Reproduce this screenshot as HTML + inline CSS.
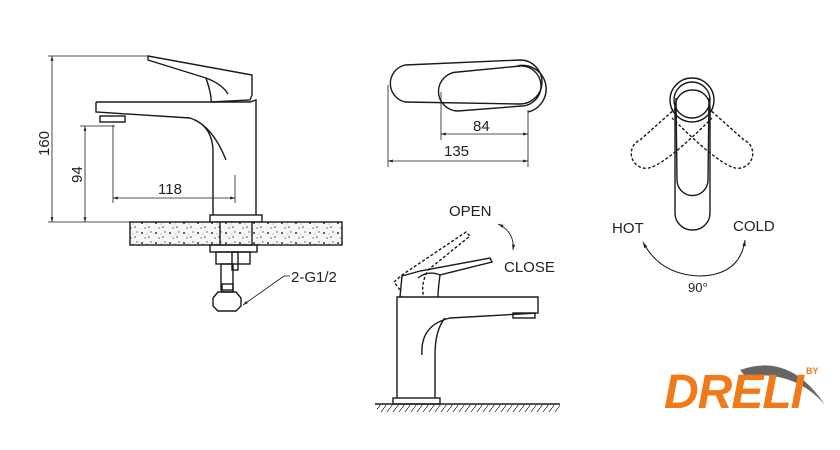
<!DOCTYPE html>
<html><head><meta charset="utf-8"><style>
html,body{margin:0;padding:0;background:#fff;}
svg{display:block;}
text{font-family:"Liberation Sans",Arial,sans-serif;fill:#222;}
</style></head><body>
<svg width="840" height="450" viewBox="0 0 840 450" xmlns="http://www.w3.org/2000/svg">
<defs>
<marker id="ar" viewBox="0 0 10 10" refX="10" refY="5" markerWidth="8" markerHeight="6" orient="auto-start-reverse"><path d="M0,2 L10,5 L0,8 z" fill="#222"/></marker>
<pattern id="sp" width="14" height="10" patternUnits="userSpaceOnUse"><rect width="14" height="10" fill="#f6f6f6"/><circle cx="2" cy="3" r="1" fill="#333"/><circle cx="9" cy="7" r="0.8" fill="#444"/><circle cx="11" cy="2" r="0.7" fill="#555"/><circle cx="5" cy="8" r="0.7" fill="#666"/><circle cx="7" cy="4" r="0.5" fill="#777"/></pattern>
<pattern id="hatch" width="6" height="8" patternUnits="userSpaceOnUse"><path d="M6,0 L0,8" stroke="#333" stroke-width="0.8"/></pattern>
</defs>
<g fill="none" stroke="#1a1a1a" stroke-width="1.4">
<!-- LEFT FAUCET -->
<line x1="48" y1="56" x2="148" y2="56" stroke-width="0.8"/>
<line x1="48" y1="222" x2="130" y2="222" stroke-width="0.8"/>
<line x1="52" y1="56" x2="52" y2="222" stroke-width="0.8" marker-start="url(#ar)" marker-end="url(#ar)"/>
<line x1="80" y1="126" x2="115" y2="126" stroke-width="0.8"/>
<line x1="85" y1="126" x2="85" y2="222" stroke-width="0.8" marker-start="url(#ar)" marker-end="url(#ar)"/>
<line x1="113" y1="125" x2="113" y2="203" stroke-width="0.8"/>
<line x1="235" y1="175" x2="235" y2="203" stroke-width="0.8"/>
<line x1="113" y1="198" x2="235" y2="198" stroke-width="0.8" marker-start="url(#ar)" marker-end="url(#ar)"/>
<path d="M148,56 L148,60 L206,78 Q212,96 211,102 L250,100 L252,95 L252,75 Z"/>
<path d="M206,78 Q222,84 228,94"/>
<path d="M96,102 L250,102 L256,100 L256,215 M96,102 L96,112 L190,118 Q212,125 226,160"/>
<path d="M213,215 L213,150 Q212,128 195,120"/>
<rect x="100" y="116" width="25" height="6"/>
<rect x="210" y="215" width="52" height="7"/>
<rect x="130" y="222" width="212" height="23" fill="url(#sp)"/>
<line x1="220" y1="222" x2="220" y2="245"/><line x1="252" y1="222" x2="252" y2="245"/>
<rect x="210" y="245" width="47" height="7"/>
<rect x="216" y="252" width="34" height="12"/>
<rect x="232" y="252" width="6" height="18"/>
<rect x="221" y="264" width="12" height="26"/>
<rect x="222" y="284" width="11" height="8"/>
<path d="M213,298 L218,292 L236,292 L241,298 L241,306 L236,311 L218,311 L213,306 Z"/>
<line x1="243" y1="305" x2="284" y2="276" stroke-width="0.8" marker-start="url(#ar)"/>
<line x1="284" y1="276" x2="290" y2="276" stroke-width="0.8"/>
<!-- PLAN VIEW -->
<path d="M405,65 L520,60 A22,22 0 0 1 520,104 L405,102 A19,19 0 0 1 405,65 Z"/>
<path d="M458,72 L520,66 A19,19 0 0 1 522,106 L458,111 A19.5,19.5 0 0 1 458,72 Z"/>
<path d="M517,66 A19,19 0 1 1 528,112"/>
<line x1="388" y1="85" x2="388" y2="167" stroke-width="0.8"/>
<line x1="441" y1="92" x2="441" y2="140" stroke-width="0.8"/>
<line x1="528" y1="110" x2="528" y2="167" stroke-width="0.8"/>
<line x1="441" y1="134" x2="528" y2="134" stroke-width="0.8" marker-start="url(#ar)" marker-end="url(#ar)"/>
<line x1="388" y1="161" x2="528" y2="161" stroke-width="0.8" marker-start="url(#ar)" marker-end="url(#ar)"/>
<!-- TOP VIEW RIGHT -->
<circle cx="692" cy="100" r="22"/>
<circle cx="692" cy="100" r="18"/>
<rect x="675" y="90" width="35" height="140" rx="17"/>
<path d="M676,98 L677,180 A15,15 0 0 0 708,180 L709,98" />
<g stroke-dasharray="3,2">
<path d="M676,108 L640,140 A14,14 0 0 0 652,167 Q670,160 712,118"/>
<path d="M708,108 L744,140 A14,14 0 0 1 732,167 Q714,160 672,118"/>
</g>
<path d="M643,242 Q660,275 700,276 Q740,275 745,240" stroke-width="1" marker-start="url(#ar)" marker-end="url(#ar)"/>
<!-- BOTTOM MIDDLE FAUCET -->
<path d="M397,398 L397,297 L538,297 L538,313 L450,318 Q420,325 422,355"/>
<path d="M435,398 L435,355 Q435,330 445,318"/>
<rect x="513" y="313" width="22" height="5"/>
<rect x="393" y="398" width="47" height="6"/>
<line x1="375" y1="404" x2="560" y2="404"/>
<rect x="377" y="405" width="183" height="7" fill="url(#hatch)" stroke="none"/>
<path d="M400,297 L402,276 L420,271 L490,258 L492,262 L440,275 Q438,290 438,297"/>
<path d="M418,278 Q428,270 440,275"/>
<path d="M400,290 L394,282 L402,275 L466,232 L470,236 L428,270 Q420,285 424,297" stroke-dasharray="3,2"/>
<path d="M498,224 Q515,232 513,250" stroke-width="0.9" marker-start="url(#ar)" marker-end="url(#ar)"/>
</g>
<g font-size="15">
<text x="0" y="0" transform="translate(49,156) rotate(-90)">160</text>
<text x="0" y="0" transform="translate(82,183) rotate(-90)">94</text>
<text x="158" y="194">118</text>
<text x="291" y="282">2-G1/2</text>
<text x="473" y="131">84</text>
<text x="444" y="156">135</text>
<text x="449" y="216">OPEN</text>
<text x="504" y="272">CLOSE</text>
<text x="612" y="233">HOT</text>
<text x="733" y="231">COLD</text>
<text x="688" y="292" font-size="13">90°</text>
</g>
<!-- LOGO -->
<path d="M740,370 Q790,352 825,405 Q795,370 745,376 Z" fill="#666"/>
<text x="664" y="408" font-size="48" font-weight="bold" font-style="italic" style="fill:#f07a1a;letter-spacing:-1px">DRELI</text>
<text x="806" y="374" font-size="9" font-weight="bold" style="fill:#f07a1a">BY</text>
</svg>
</body></html>
